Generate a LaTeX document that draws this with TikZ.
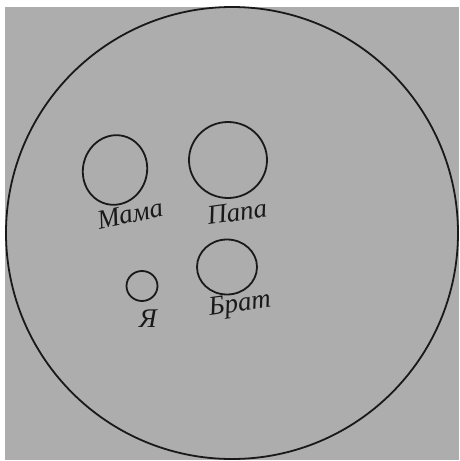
\documentclass[tikz,border=0pt]{standalone}
\usepackage{fontspec}
\setmainfont{Liberation Serif}
\usetikzlibrary{shapes.geometric}
\begin{document}
\begin{tikzpicture}[x=1pt,y=-1pt,
  ring/.style={draw=black!90, line width=1.8pt},
  hand/.style={font=\fontsize{27}{29}\selectfont\itshape, text=black!90, inner sep=0pt}]
\fill[white] (0,0) rectangle (459,461);
\useasboundingbox (0,0) rectangle (459,461);
\fill[fill={rgb,255:red,173;green,173;blue,173}] (5,7) rectangle (459,460);
\node[ring, circle, minimum size=452pt, inner sep=0pt] (world) at (232,233) {};
\node[ring, ellipse, minimum width=64pt, minimum height=70pt, inner sep=0pt, rotate=-15] (mama) at (115,170) {};
\node[ring, ellipse, minimum width=78pt, minimum height=76pt, inner sep=0pt] (papa) at (228,160) {};
\node[ring, ellipse, minimum width=31pt, minimum height=30pt, inner sep=0pt] (ya) at (142,286) {};
\node[ring, ellipse, minimum width=60pt, minimum height=55pt, inner sep=0pt] (brat) at (227,267) {};
\node[hand, rotate=12] (lmama) at (130,214) {Мама};
\node[hand, rotate=8] (lpapa) at (237,212) {Папа};
\node[hand] (lya) at (148,319) {Я};
\node[hand, rotate=8] (lbrat) at (240,305) {Брат};
\end{tikzpicture}
\end{document}
